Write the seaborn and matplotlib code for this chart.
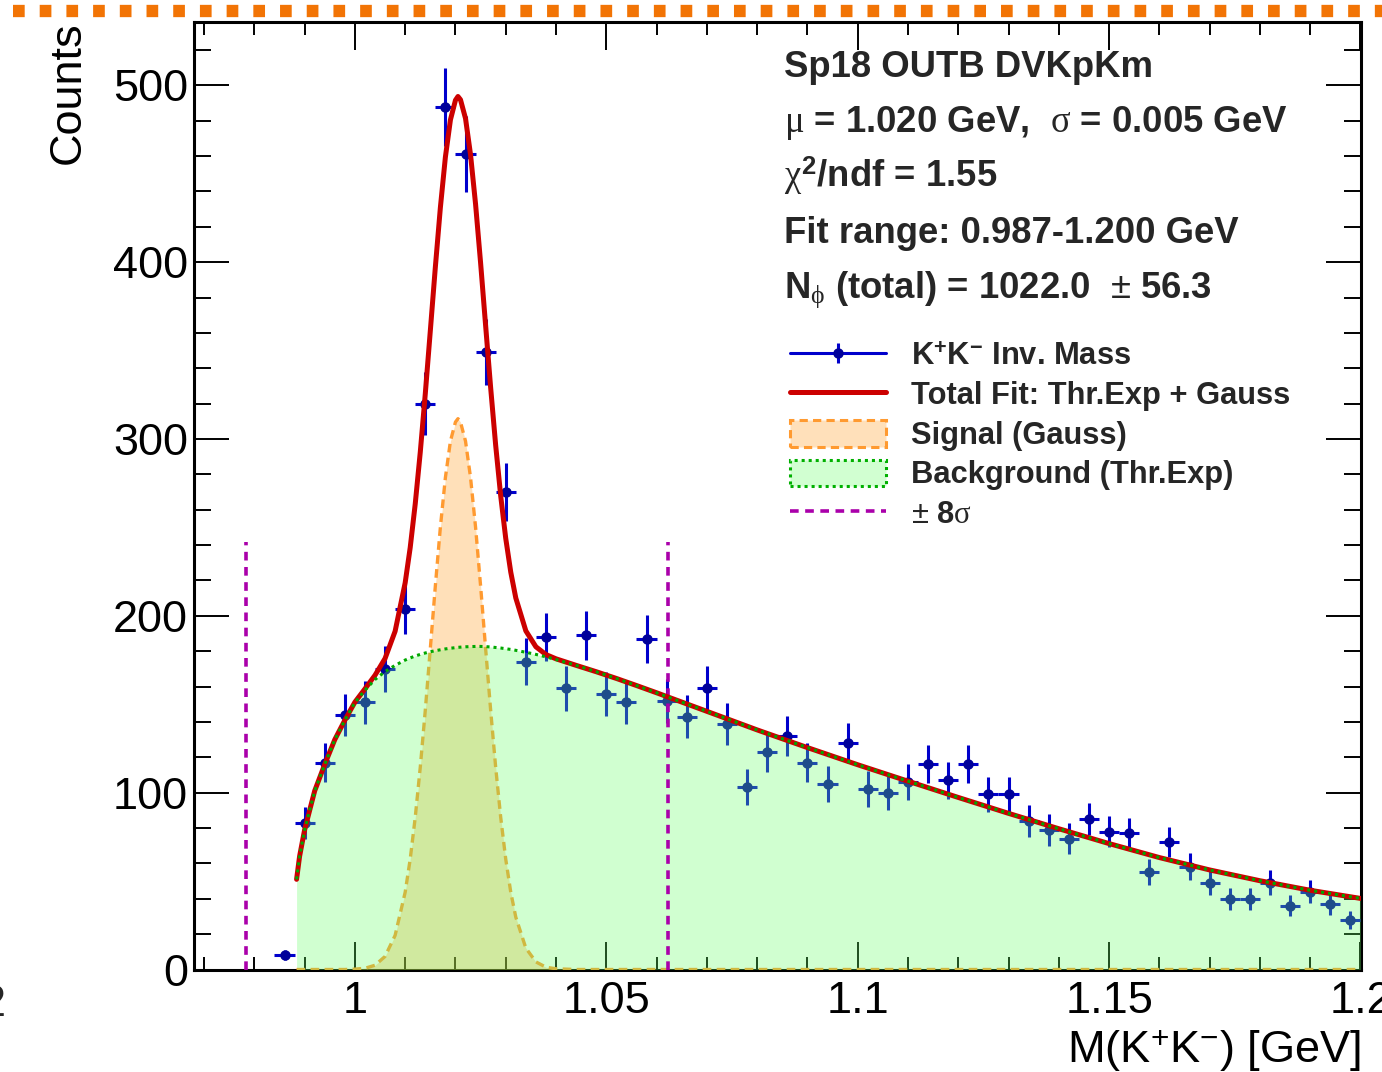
import numpy as np
import matplotlib
matplotlib.use("Agg")
import matplotlib.pyplot as plt
import seaborn as sns
from matplotlib.lines import Line2D
from matplotlib.patches import Patch
from matplotlib.ticker import MultipleLocator, FuncFormatter
from matplotlib.font_manager import FontProperties

sns.set_style("ticks")
plt.rcParams['font.family'] = ['Liberation Sans', 'DejaVu Sans']
plt.rcParams['mathtext.fontset'] = 'custom'
plt.rcParams['mathtext.rm'] = 'Liberation Sans'
plt.rcParams['mathtext.bf'] = 'Liberation Sans:bold'
plt.rcParams['mathtext.it'] = 'Liberation Serif'

# K+K- invariant mass histogram, 4 MeV bins (first filled bin centred at 0.986 GeV)
bin_width = 0.004
first_center = 0.986
counts = [8, 83, 117, 144, 151, 170, 204, 320, 488, 461,
          349, 270, 174, 188, 159, 189, 156, 151, 187, 152,
          143, 159, 139, 103, 123, 132, 117, 105, 128, 102,
          100, 106, 116, 107, 116, 99, 99, 84, 79, 74,
          85, 78, 77, 55, 72, 58, 49, 40, 40, 49,
          36, 44, 37, 28]

# fit components
curve_x = [0.9884, 0.989, 0.990, 0.992, 0.994, 0.996, 0.998, 1.000, 1.002, 1.004,
           1.006, 1.008, 1.010, 1.011, 1.012, 1.013, 1.014, 1.015, 1.016, 1.017,
           1.018, 1.019, 1.020, 1.0205, 1.021, 1.022, 1.023, 1.024, 1.025, 1.026,
           1.027, 1.028, 1.029, 1.030, 1.031, 1.032, 1.034, 1.036, 1.038, 1.040,
           1.044, 1.048, 1.052, 1.056, 1.060, 1.070, 1.080, 1.090, 1.100, 1.110,
           1.120, 1.130, 1.140, 1.150, 1.160, 1.170, 1.180, 1.190, 1.200]
bkg_curve = [51, 64, 79, 101, 116, 130, 141, 151, 158, 164,
             168.5, 172, 175, 176.2, 177.3, 178.2, 179.0, 179.7, 180.3, 180.8,
             181.3, 181.7, 182.0, 182.2, 182.3, 182.5, 182.6, 182.7, 182.7, 182.6,
             182.4, 182.1, 181.8, 181.4, 181.0, 180.5, 179.4, 178.2, 176.8, 175.3,
             172.0, 168.4, 164.6, 160.6, 156.5, 146, 135.5, 125.5, 115.8, 106.5,
             97.3, 88.3, 79.6, 71.2, 63.3, 56.3, 50.2, 44.8, 40.2]
sig_curve = [0, 0, 0, 0, 0, 0, 0, 0.2, 0.7, 2.4,
             7.4, 19.3, 43.7, 62.4, 86.0, 114.3, 146.6, 181.5, 216.9, 250.1,
             278.2, 298.8, 309.6, 311.5, 309.6, 298.8, 278.2, 250.1, 216.9, 181.5,
             146.6, 114.3, 86.0, 62.4, 43.7, 29.6, 12.1, 4.3, 1.3, 0.4,
             0, 0, 0, 0, 0, 0, 0, 0, 0, 0,
             0, 0, 0, 0, 0, 0, 0, 0, 0]

# +-8 sigma window markers
sigma_lines = [0.9784, 1.0623]
sigma_line_top = 242

# fit summary
fit_mu = 1.020
fit_sigma = 0.005
chi2_ndf = 1.55
fit_range = (0.987, 1.200)
n_phi = 1022.0
n_phi_err = 56.3

W, H = 1382, 1072
def fx(p): return p / W
def fy(p): return 1 - p / H

bar_blue = "#0000cc"
dot_blue = "#00009a"
red = "#cc0000"
orange = "#ff9a30"
green = "#00a800"
purple = "#aa00aa"

centers = first_center + bin_width * np.arange(len(counts))
counts = np.array(counts, dtype=float)
total_curve = np.array(bkg_curve) + np.array(sig_curve)

fig = plt.figure(figsize=(W / 100, H / 100), dpi=100)
fig.patch.set_facecolor("white")
ax = fig.add_axes([fx(194), fy(969.5), (1361 - 194) / W, (969.5 - 21.7) / H])
ax.set_facecolor("white")
ax.set_axisbelow(True)

# data points (under the semi-transparent fills, like the original)
ax.errorbar(centers, counts, xerr=bin_width / 2, yerr=np.sqrt(counts), fmt='none',
            ecolor=bar_blue, elinewidth=2.2, capsize=0, zorder=1.5)
ax.plot(centers, counts, 'o', color=dot_blue, ms=6.5, zorder=1.6)

# signal and background fills
ax.fill_between(curve_x, 0, sig_curve, color=(1, 0.6, 0.1), alpha=0.3, lw=0, zorder=2.0)
sns.lineplot(x=curve_x, y=sig_curve, color=orange, lw=2.4, linestyle=(0, (2.6, 1.6)),
             estimator=None, errorbar=None, legend=False, ax=ax, zorder=2.1)
ax.fill_between(curve_x, 0, bkg_curve, color=(0.4, 1, 0.4), alpha=0.3, lw=0, zorder=2.2)

for xv in sigma_lines:
    ax.plot([xv, xv], [0, sigma_line_top], color=purple, lw=2.6,
            linestyle=(0, (2.4, 1.8)), zorder=2.5)

sns.lineplot(x=curve_x, y=total_curve, color=red, lw=3.6,
             estimator=None, errorbar=None, legend=False, ax=ax, zorder=3)
sns.lineplot(x=curve_x, y=bkg_curve, color=green, lw=2.2, linestyle=(0, (1, 1.3)),
             estimator=None, errorbar=None, legend=False, ax=ax, zorder=3.1)

ax.set_xlim(0.968, 1.2001)
ax.set_ylim(0, 536)
ax.xaxis.set_major_locator(MultipleLocator(0.05))
ax.xaxis.set_minor_locator(MultipleLocator(0.01))
ax.yaxis.set_major_locator(MultipleLocator(100))
ax.yaxis.set_minor_locator(MultipleLocator(20))
fmt = FuncFormatter(lambda v, _: f"{v:g}")
ax.xaxis.set_major_formatter(fmt)
ax.yaxis.set_major_formatter(fmt)

ax.tick_params(axis='x', which='both', direction='in', top=True, bottom=True,
               width=1.4, color='black', labelsize=32.5, pad=8.5, labelcolor='black')
ax.tick_params(axis='x', which='major', length=20)
ax.tick_params(axis='x', which='minor', length=9.5)
ax.tick_params(axis='y', which='both', direction='in', left=True, right=True,
               width=1.4, color='black', labelsize=32.5, pad=4.3, labelcolor='black')
ax.tick_params(axis='y', which='major', length=25)
ax.tick_params(axis='y', which='minor', length=12.2)
for sp in ax.spines.values():
    sp.set_color('black')
    sp.set_linewidth(2.2)
    sp.set_zorder(1)

ax.set_xlabel(r"M(K$^{+}$K$^{-}$) [GeV]", fontsize=32.5, loc='right', color='black')
ax.xaxis.set_label_coords(1.0, (969.5 - 1063.3) / 947.8)
ax.xaxis.label.set_verticalalignment('baseline')
ax.set_ylabel("Counts", fontsize=32.5, loc='top', color='black')
ax.yaxis.set_label_coords((80 - 194) / 1167, 1.0)
ax.yaxis.label.set_verticalalignment('baseline')

# cut-off label at the far left edge
fig.text(fx(6), fy(1016), "2", fontsize=32.5, ha='right', va='baseline')

# fit summary text
info = ["Sp18 OUTB DVKpKm",
        rf"$\mu$ = {fit_mu:.3f} GeV,  $\sigma$ = {fit_sigma:.3f} GeV",
        rf"$\chi^{{\mathbf{{2}}}}$/ndf = {chi2_ndf:.2f}",
        f"Fit range: {fit_range[0]:.3f}-{fit_range[1]:.3f} GeV",
        rf"N$_{{\phi}}$ (total) = {n_phi:.1f}  $\pm$ {n_phi_err:.1f}"]
baselines = [76.7, 131.7, 186.7, 243, 298]
for txt, yb in zip(info, baselines):
    fig.text(fx(784), fy(yb), txt, fontsize=26.3, fontweight='bold',
             ha='left', va='baseline')

# legend
handles = [
    (Line2D([], [], color=bar_blue, lw=2.2),
     Line2D([], [], color=bar_blue, marker='|', ms=14, mew=2.2, ls='none'),
     Line2D([], [], color=dot_blue, marker='o', ms=6.5, ls='none')),
    Line2D([], [], color=red, lw=3.6),
    Patch(facecolor="#ffe0ba", edgecolor=orange, lw=2.2, linestyle=(0, (2.7, 1.7))),
    Patch(facecolor="#d1ffd1", edgecolor="#00b000", lw=2.2, linestyle=(0, (1, 1.3))),
    Line2D([], [], color=purple, lw=2.6, linestyle=(0, (2.4, 1.8))),
]
labels = [r"K$^{\mathbf{+}}$K$^{\mathbf{-}}$ Inv. Mass",
          "Total Fit: Thr.Exp + Gauss",
          "Signal (Gauss)",
          "Background (Thr.Exp)",
          r"$\pm$ 8$\sigma$"]
leg = ax.legend(handles, labels, loc='upper left',
                bbox_to_anchor=(fx(790), fy(341)), bbox_transform=fig.transFigure,
                frameon=False, borderpad=0, borderaxespad=0,
                handlelength=3.12, handleheight=0.95, handletextpad=0.8,
                labelspacing=0.28,
                prop=FontProperties(family=['Liberation Sans', 'DejaVu Sans'],
                                    weight='bold', size=22.2))

# dotted orange border along the top
fig.add_artist(Line2D([fx(13.3), 1.0], [fy(11.2), fy(11.2)], transform=fig.transFigure,
                      color="#f27405", lw=8.86, linestyle=(0, (0.95, 1.22)),
                      dash_capstyle='butt'))

fig.savefig("out.png", dpi=100)
